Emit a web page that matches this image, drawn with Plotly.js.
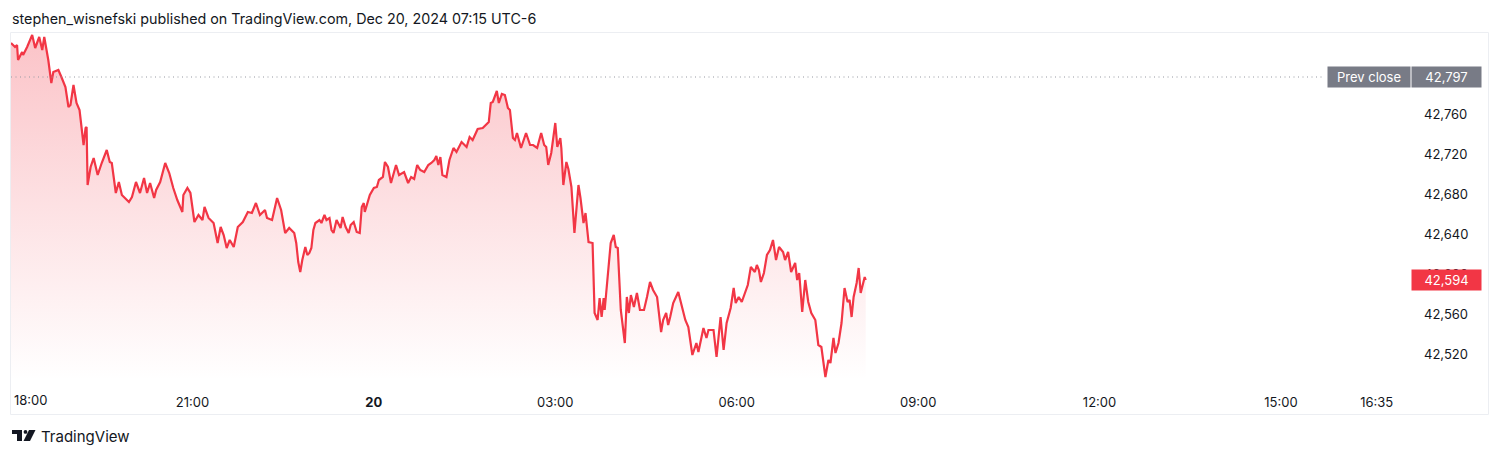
<!DOCTYPE html>
<html>
<head>
<meta charset="utf-8">
<script src="https://cdn.plot.ly/plotly-3.0.1.min.js"></script>
<style>
  html, body { margin: 0; padding: 0; background: #ffffff; }
  #chart { width: 1500px; height: 457px; }
</style>
</head>
<body>
<div id="chart"></div>
<script>
// ---- DATA ----
const sessionStart = '2024-12-19T18:00:00Z';
// minutes after 18:00 (Dec 19)
const minutesFromStart = [
  0,4,6,7,11,12,16,21,24,28,31,33,37,39,40,42,47,50,54,57,
  59,62,65,68,70,72,74,75,76,79,82,86,90,95,98,100,104,107,110,117,
  120,124,128,132,135,138,142,144,148,153,157,161,165,170,171,175,178,182,186,190,
  192,196,201,205,208,211,214,217,221,225,230,235,239,243,247,252,254,259,264,268,
  272,276,281,283,285,287,289,292,294,296,298,300,302,306,308,311,313,316,318,320,
  323,327,329,332,335,337,340,343,346,348,350,351,356,360,363,365,369,371,374,377,
  382,385,390,394,397,400,403,406,410,414,417,420,422,424,426,428,432,435,439,442,
  447,452,455,458,463,468,474,476,478,482,484,487,490,493,495,498,500,502,506,511,
  515,518,522,526,529,531,533,536,540,542,545,546,548,551,553,556,559,563,565,568,
  570,573,577,579,582,584,586,588,589,592,595,598,600,602,605,609,611,613,615,618,
  621,624,628,631,634,637,641,645,647,650,652,654,657,662,665,669,672,674,676,680,
  682,687,690,692,697,700,704,707,710,714,717,719,722,725,728,731,734,738,740,742,
  744,747,750,753,756,759,762,766,768,771,774,778,780,782,785,788,791,794,798,801,
  804,808,811,813,816,818,821,824,827,830,832,834,836,839,841,843,847,848
];
const prices = [
  42831,42827,42829,42814,42822,42819,42827,42839,42826,42837,42824,42837,42814,42801,42791,42802,42804,42797,42787,42767,
  42769,42789,42771,42764,42744,42729,42746,42747,42689,42707,42716,42699,42711,42724,42712,42711,42681,42692,42679,42672,
  42677,42692,42681,42696,42681,42691,42676,42684,42692,42711,42701,42686,42674,42662,42679,42686,42681,42652,42659,42654,
  42667,42656,42651,42631,42647,42639,42626,42634,42627,42647,42652,42662,42661,42671,42659,42664,42656,42654,42676,42664,
  42641,42646,42641,42631,42612,42602,42614,42627,42619,42621,42626,42644,42651,42654,42651,42659,42654,42656,42644,42641,
  42654,42646,42657,42647,42641,42649,42652,42642,42641,42667,42671,42662,42679,42686,42687,42694,42697,42712,42707,42691,
  42709,42699,42702,42691,42697,42695,42709,42704,42702,42709,42711,42714,42718,42709,42717,42699,42697,42714,42726,42722,
  42732,42727,42737,42734,42745,42746,42752,42771,42772,42783,42771,42780,42779,42766,42764,42736,42734,42741,42726,42741,
  42729,42729,42726,42741,42729,42727,42709,42721,42751,42727,42736,42726,42689,42712,42705,42687,42641,42689,42676,42651,
  42661,42632,42631,42561,42554,42576,42557,42576,42564,42601,42631,42639,42627,42626,42564,42531,42577,42561,42579,42567,
  42581,42564,42564,42577,42592,42584,42577,42542,42554,42561,42549,42557,42571,42582,42571,42554,42547,42532,42519,42531,
  42522,42546,42536,42544,42544,42517,42557,42524,42551,42566,42586,42571,42577,42572,42581,42589,42607,42602,42609,42604,
  42592,42601,42619,42624,42634,42614,42627,42622,42614,42622,42602,42611,42594,42601,42562,42594,42572,42561,42554,42529,
  42527,42497,42514,42511,42536,42521,42531,42551,42586,42572,42574,42557,42577,42591,42606,42581,42597,42594
];
const prevClose = 42797;
const lastPrice = 42594;
const yTickValues = [42520, 42560, 42600, 42640, 42680, 42720, 42760];
const xTickTimes = ['2024-12-19 21:00','2024-12-20 00:00','2024-12-20 03:00','2024-12-20 06:00',
                    '2024-12-20 09:00','2024-12-20 12:00','2024-12-20 15:00','2024-12-20 16:35'];
const xTickLabels = ['21:00','<b>20</b>','03:00','06:00','09:00','12:00','15:00','16:35'];
const firstTickTime = '2024-12-19 18:00';
const firstTickLabel = '18:00';
const titleText = 'stephen_wisnefski published on TradingView.com, Dec 20, 2024 07:15 UTC-6';

// ---- helpers ----
const base = Date.parse(sessionStart);
function fmt(ms) {
  const d = new Date(ms);
  const p = n => String(n).padStart(2, '0');
  return d.getUTCFullYear() + '-' + p(d.getUTCMonth() + 1) + '-' + p(d.getUTCDate()) + ' ' +
         p(d.getUTCHours()) + ':' + p(d.getUTCMinutes()) + ':00';
}
const times = minutesFromStart.map(m => fmt(base + m * 60000));

const W = 1500, H = 457;
const M = { l: 11, r: 90, t: 32, b: 77 };
const plotW = W - M.l - M.r, plotH = H - M.t - M.b;
const px = x => (x - M.l) / plotW;            // pixel -> paper x
const py = y => (H - M.b - y) / plotH;        // pixel -> paper y
const fmtNum = v => v.toLocaleString('en-US');

const RED = '#f23645';
const FONT = 'Inter, "Noto Sans", Roboto, sans-serif';
const yMin = 42494, yMax = 42842;

const trace = {
  x: times, y: prices, type: 'scatter', mode: 'lines',
  line: { color: RED, width: 2.2 },
  fill: 'tozeroy',
  fillgradient: {
    type: 'vertical', start: yMin, stop: yMax,
    colorscale: [[0, 'rgba(242,54,69,0)'], [1, 'rgba(242,54,69,0.3)']]
  },
  hoverinfo: 'skip'
};

function poly(pts) {
  return 'M' + pts.map(p => px(p[0]).toFixed(5) + ',' + py(p[1]).toFixed(5)).join(' L') + ' Z';
}

const shapes = [
  // outer frame
  { type: 'rect', xref: 'paper', yref: 'paper', x0: px(10.5), x1: px(1488.5), y0: py(414.5), y1: py(32.5),
    line: { color: '#eceef2', width: 1 }, layer: 'below' },
  // previous-close dotted line
  { type: 'line', xref: 'paper', yref: 'y', x0: 0, x1: px(1324), y0: prevClose, y1: prevClose,
    line: { color: '#9598a1', width: 1, dash: '1px,3.5px' } },
  // TradingView logo
  { type: 'path', xref: 'paper', yref: 'paper', path: poly([[12,430],[22,430],[22,441],[17,441],[17,434],[12,434]]),
    fillcolor: '#131722', line: { width: 0 } },
  { type: 'circle', xref: 'paper', yref: 'paper', x0: px(23.6), x1: px(27.4), y0: py(433.8), y1: py(430),
    fillcolor: '#131722', line: { width: 0 } },
  { type: 'path', xref: 'paper', yref: 'paper', path: poly([[29,430],[35.5,430],[30,441],[23.5,441]]),
    fillcolor: '#131722', line: { width: 0 } }
];

const annotations = [
  { text: firstTickLabel, xref: 'x', x: firstTickTime, xanchor: 'left', xshift: 1,
    yref: 'paper', y: py(400), yanchor: 'middle', showarrow: false,
    font: { family: FONT, size: 13, color: '#131722' } },
  { text: 'Prev close', xref: 'paper', x: px(1327), xanchor: 'left', yref: 'y', y: prevClose, yanchor: 'middle',
    showarrow: false, bgcolor: '#787b86', width: 78, height: 16, borderpad: 2,
    font: { family: FONT, size: 13, color: '#ffffff' } },
  { text: fmtNum(prevClose), xref: 'paper', x: px(1411), xanchor: 'left', yref: 'y', y: prevClose, yanchor: 'middle',
    showarrow: false, bgcolor: '#787b86', width: 65, height: 16, borderpad: 2,
    font: { family: FONT, size: 13, color: '#ffffff' } },
  { text: fmtNum(lastPrice), xref: 'paper', x: px(1411), xanchor: 'left', yref: 'y', y: lastPrice, yanchor: 'middle',
    showarrow: false, bgcolor: RED, width: 65, height: 16, borderpad: 2,
    font: { family: FONT, size: 13, color: '#ffffff' } },
  { text: 'TradingView', xref: 'paper', x: px(39), xanchor: 'left', yref: 'paper', y: py(436), yanchor: 'middle',
    showarrow: false, font: { family: FONT, size: 15, color: '#131722' } }
];

const layout = {
  width: W, height: H,
  margin: M,
  paper_bgcolor: '#ffffff', plot_bgcolor: '#ffffff',
  showlegend: false,
  title: { text: titleText, x: 12 / W, xref: 'container', xanchor: 'left',
           y: 1 - 19 / H, yref: 'container', yanchor: 'middle',
           font: { family: FONT, size: 14.3, color: '#131722' } },
  xaxis: {
    type: 'date', range: ['2024-12-19 18:00', '2024-12-20 17:08'],
    tickmode: 'array', tickvals: xTickTimes, ticktext: xTickLabels,
    showgrid: false, zeroline: false, showline: false, ticks: '',
    ticklabelstandoff: 13,
    tickfont: { family: FONT, size: 13, color: '#131722' },
    fixedrange: true
  },
  yaxis: {
    side: 'right', range: [yMin, yMax],
    tickmode: 'array', tickvals: yTickValues, ticktext: yTickValues.map(fmtNum),
    showgrid: false, zeroline: false, showline: false, ticks: '',
    ticklabelstandoff: 13,
    tickfont: { family: FONT, size: 13, color: '#131722' },
    fixedrange: true
  },
  shapes: shapes,
  annotations: annotations
};

Plotly.newPlot('chart', [trace], layout, { displayModeBar: false, staticPlot: true });
</script>
</body>
</html>
